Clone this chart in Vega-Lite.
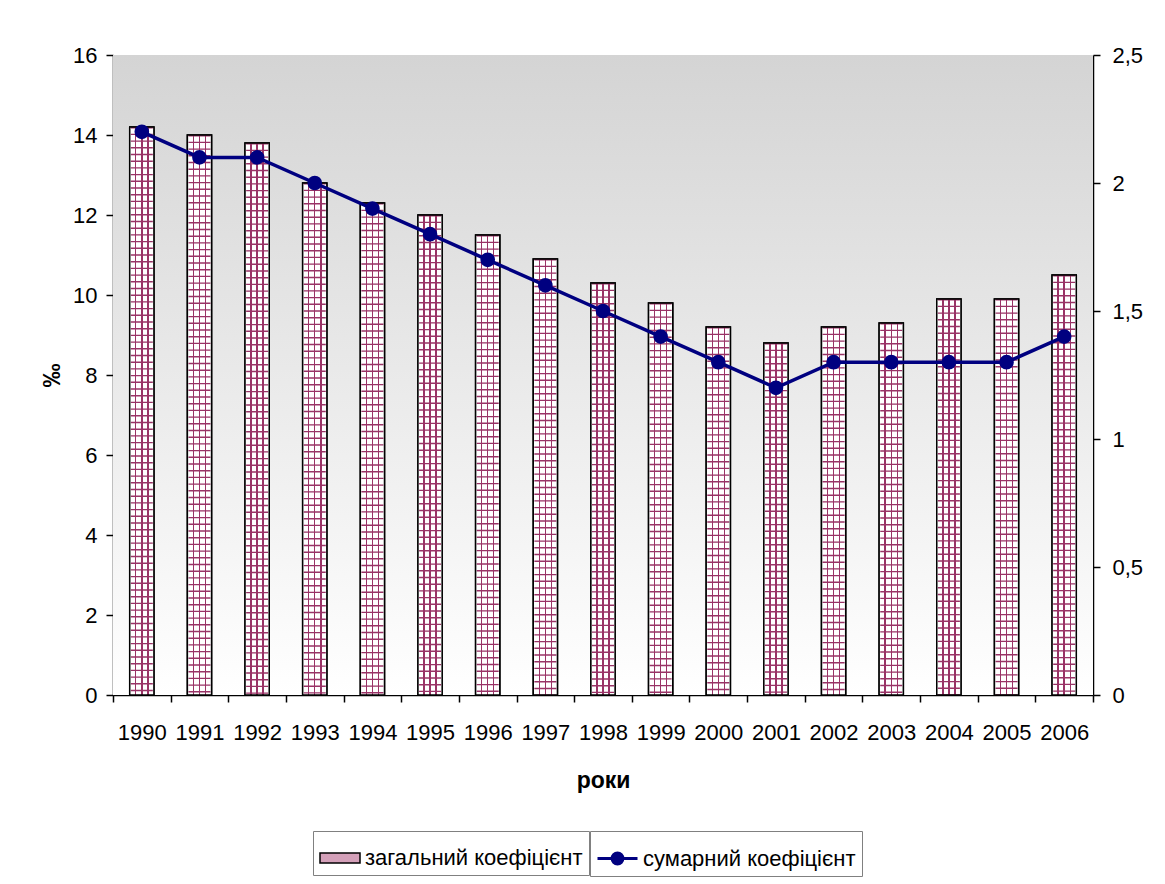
{
  "$schema": "https://vega.github.io/schema/vega-lite/v6.json",
  "autosize": {"type": "none"},
  "padding": {"left": 113, "top": 55, "right": 72, "bottom": 189},
  "width": 980,
  "height": 640,
  "background": "white",
  "config": {
    "view": {"stroke": null},
    "font": "Liberation Sans",
    "axis": {"grid": false, "domainColor": "black", "tickColor": "black", "domainWidth": 1.5, "tickWidth": 1.5, "tickSize": 7, "labelFont": "Liberation Sans", "labelFontSize": 22, "labelColor": "black", "titleFont": "Liberation Sans", "titleColor": "black"},
    "legend": {"labelFont": "Liberation Sans", "labelFontSize": 22, "labelColor": "black", "labelLimit": 400}
  },
  "data": {"values": [
    {"year": "1990", "total": 14.2, "tfr": 2.2},
    {"year": "1991", "total": 14.0, "tfr": 2.1},
    {"year": "1992", "total": 13.8, "tfr": 2.1},
    {"year": "1993", "total": 12.8, "tfr": 2.0},
    {"year": "1994", "total": 12.3, "tfr": 1.9},
    {"year": "1995", "total": 12.0, "tfr": 1.8},
    {"year": "1996", "total": 11.5, "tfr": 1.7},
    {"year": "1997", "total": 10.9, "tfr": 1.6},
    {"year": "1998", "total": 10.3, "tfr": 1.5},
    {"year": "1999", "total": 9.8, "tfr": 1.4},
    {"year": "2000", "total": 9.2, "tfr": 1.3},
    {"year": "2001", "total": 8.8, "tfr": 1.2},
    {"year": "2002", "total": 9.2, "tfr": 1.3},
    {"year": "2003", "total": 9.3, "tfr": 1.3},
    {"year": "2004", "total": 9.9, "tfr": 1.3},
    {"year": "2005", "total": 9.9, "tfr": 1.3},
    {"year": "2006", "total": 10.5, "tfr": 1.4}
  ]},
  "encoding": {
    "x": {"field": "year", "type": "nominal", "sort": null, "scale": {"type": "band", "paddingInner": 0, "paddingOuter": 0},
      "axis": {"title": "роки", "labelAngle": 0, "tickBand": "extent", "labelPadding": 20, "titleFontSize": 23, "titleFontWeight": "bold", "titlePadding": 26}}
  },
  "layer": [
    {
      "layer": [
        {
          "mark": {"type": "rect", "fill": {"gradient": "linear", "x1": 0, "y1": 0, "x2": 0, "y2": 1, "stops": [{"offset": 0, "color": "#d4d4d4"}, {"offset": 1, "color": "#ffffff"}]}},
          "encoding": {
            "x": {"value": 0},
            "x2": {"value": "width"},
            "y": {"datum": 16, "type": "quantitative"},
            "y2": {"datum": 0}
          }
        },
        {
          "mark": {"type": "bar", "width": {"band": 0.42}, "stroke": "black", "strokeWidth": 1.5},
          "encoding": {
            "y": {"field": "total", "type": "quantitative", "scale": {"domain": [0, 16]},
              "axis": {"title": "‰", "values": [0, 2, 4, 6, 8, 10, 12, 14, 16], "labelPadding": 9, "titleFontSize": 24, "titleFontWeight": "bold", "titleX": -61, "titleY": 320, "titleAngle": -90, "titleAlign": "center", "titleBaseline": "middle"}},
            "fill": {"datum": "загальний коефіцієнт", "type": "nominal", "scale": {"range": ["#d4a0b9"]},
              "legend": {"title": null, "orient": "none", "legendX": 200, "legendY": 776, "symbolType": "M-1,-0.25H1V0.25H-1Z", "symbolSize": 1600, "symbolStrokeColor": "black", "symbolStrokeWidth": 1.5, "symbolOpacity": 1, "labelOffset": 4, "strokeColor": "#808080", "padding": 6}}
          }
        },
        {
          "mark": {"type": "bar", "width": {"band": 0.42}, "fill": {"gradient": "linear", "x1": 0, "y1": 0, "x2": 1, "y2": 0, "stops": [
            {"offset": 0, "color": "#ffffff"}, {"offset": 0.22, "color": "#ffffff"}, {"offset": 0.22, "color": "#993366"}, {"offset": 0.28, "color": "#993366"}, {"offset": 0.28, "color": "#ffffff"},
            {"offset": 0.47, "color": "#ffffff"}, {"offset": 0.47, "color": "#993366"}, {"offset": 0.53, "color": "#993366"}, {"offset": 0.53, "color": "#ffffff"},
            {"offset": 0.72, "color": "#ffffff"}, {"offset": 0.72, "color": "#993366"}, {"offset": 0.78, "color": "#993366"}, {"offset": 0.78, "color": "#ffffff"}, {"offset": 1, "color": "#ffffff"}]}},
          "encoding": {
            "y": {"field": "total", "type": "quantitative"}
          }
        },
        {
          "mark": {"type": "rule", "strokeWidth": 22, "strokeDash": [1.4, 5.3], "strokeCap": "butt", "stroke": "#993366"},
          "encoding": {
            "y": {"field": "total", "type": "quantitative"},
            "y2": {"datum": 0}
          }
        },
        {
          "mark": {"type": "bar", "width": {"band": 0.42}, "fill": "transparent", "stroke": "black", "strokeWidth": 1.5},
          "encoding": {
            "y": {"field": "total", "type": "quantitative"}
          }
        }
      ]
    },
    {
      "mark": {"type": "line", "strokeWidth": 3.5, "point": {"filled": true, "size": 160, "color": "#000080"}},
      "encoding": {
        "y": {"field": "tfr", "type": "quantitative", "scale": {"domain": [0, 2.5]},
          "axis": {"orient": "right", "title": null, "values": [0, 0.5, 1, 1.5, 2, 2.5], "labelPadding": 12, "labelExpr": "replace(format(datum.value, '~g'), '.', ',')"}},
        "stroke": {"datum": "сумарний коефіцієнт", "type": "nominal", "scale": {"range": ["#000080"]},
          "legend": {"title": null, "orient": "none", "legendX": 477, "legendY": 776, "symbolType": "M-1,0H1M-0.27,0A0.27,0.27,0,1,1,0.27,0A0.27,0.27,0,1,1,-0.27,0Z", "symbolSize": 1600, "symbolFillColor": "#000080", "symbolStrokeColor": "#000080", "symbolStrokeWidth": 3, "symbolOpacity": 1, "labelOffset": 4, "strokeColor": "#808080", "padding": 6}}
      }
    }
  ],
  "resolve": {"scale": {"y": "independent"}}
}
